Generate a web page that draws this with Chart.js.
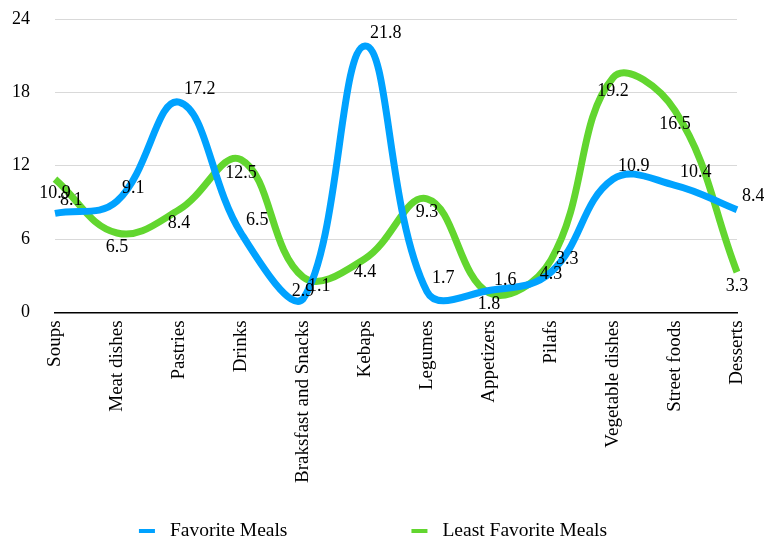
<!DOCTYPE html>
<html>
<head>
<meta charset="utf-8">
<script src="https://cdn.jsdelivr.net/npm/chart.js@4.4.1/dist/chart.umd.min.js"></script>
<style>
  body { margin: 0; background: #fff; }
  #wrap { width: 764px; height: 543px; }
</style>
</head>
<body>
<div id="wrap"><canvas id="mealsChart"></canvas></div>
<script>
// Categories and values
const categories = ['Soups', 'Meat dishes', 'Pastries', 'Drinks', 'Braksfast and Snacks', 'Kebaps',
    'Legumes', 'Appetizers', 'Pilafs', 'Vegetable dishes', 'Street foods', 'Desserts'];
const favoriteMeals = [8.1, 9.1, 17.2, 6.5, 1.1, 21.8, 1.7, 1.8, 3.3, 10.9, 10.4, 8.4];
const leastFavoriteMeals = [10.9, 6.5, 8.4, 12.5, 2.9, 4.4, 9.3, 1.6, 4.3, 19.2, 16.5, 3.3];
const yTicks = [0, 6, 12, 18, 24];

// where each value label sits relative to its point
const favoriteLabelPos = ['above', 'above', 'above', 'above', 'above', 'above',
    'above', 'below', 'above', 'above', 'above', 'above'];
const leastLabelPos = ['below', 'below', 'below', 'below', 'below', 'below',
    'below', 'above', 'below', 'below', 'below', 'below'];

const FONT = '"Liberation Serif", "Times New Roman", serif';

// Draws the number next to every point
const valueLabels = {
    id: 'valueLabels',
    afterDatasetsDraw(chart) {
        const ctx = chart.ctx;
        ctx.save();
        ctx.font = '18px ' + FONT;
        ctx.fillStyle = '#000';
        ctx.textBaseline = 'middle';
        chart.data.datasets.forEach((ds, di) => {
            const meta = chart.getDatasetMeta(di);
            meta.data.forEach((pt, i) => {
                const text = ds.data[i].toFixed(1);
                if (ds.labelPos[i] === 'above') {
                    ctx.textAlign = 'left';
                    ctx.fillText(text, pt.x + 5, pt.y - 13);
                } else {
                    ctx.textAlign = 'center';
                    ctx.fillText(text, pt.x, pt.y + 14);
                }
            });
        });
        ctx.restore();
    }
};

// Simple legend at the bottom with short line markers
const bottomLegend = {
    id: 'bottomLegend',
    afterDraw(chart) {
        const ctx = chart.ctx;
        const markerLen = 16, markerGap = 15, itemGap = 124;
        ctx.save();
        ctx.font = '19.5px ' + FONT;
        ctx.textBaseline = 'middle';
        ctx.textAlign = 'left';
        const items = chart.data.datasets.map(ds => ({
            text: ds.label,
            color: ds.borderColor,
            width: markerLen + markerGap + ctx.measureText(ds.label).width
        }));
        const total = items.reduce((s, it) => s + it.width, 0) + itemGap * (items.length - 1);
        let x = chart.width / 2 - total / 2 - 9;
        const y = chart.height - 12;
        items.forEach(it => {
            ctx.fillStyle = it.color;
            ctx.fillRect(x, y - 2, markerLen, 4);
            ctx.fillStyle = '#000';
            ctx.fillText(it.text, x + markerLen + markerGap, y);
            x += it.width + itemGap;
        });
        ctx.restore();
    }
};

const ctx = document.getElementById('mealsChart').getContext('2d');
new Chart(ctx, {
    type: 'line',
    data: {
        labels: categories,
        datasets: [{
            label: 'Favorite Meals',
            data: favoriteMeals,
            labelPos: favoriteLabelPos,
            borderColor: '#00A2FF',
            backgroundColor: '#00A2FF',
            borderWidth: 7,
            tension: 0.4,
            pointRadius: 0,
            fill: false
        }, {
            label: 'Least Favorite Meals',
            data: leastFavoriteMeals,
            labelPos: leastLabelPos,
            borderColor: '#62D62F',
            backgroundColor: '#62D62F',
            borderWidth: 7,
            tension: 0.4,
            pointRadius: 0,
            fill: false
        }]
    },
    options: {
        responsive: true,
        maintainAspectRatio: false,
        animation: false,
        layout: {
            padding: { left: 12, right: 27, top: 19, bottom: 60 }
        },
        plugins: {
            legend: { display: false },
            tooltip: { enabled: false }
        },
        scales: {
            x: {
                offset: false,
                grid: { display: false },
                border: { color: '#000', width: 1.5 },
                ticks: {
                    color: '#000',
                    font: { family: FONT, size: 19 },
                    maxRotation: 90,
                    minRotation: 90,
                    padding: 0,
                    autoSkip: false
                }
            },
            y: {
                min: yTicks[0],
                max: yTicks[yTicks.length - 1],
                afterBuildTicks: scale => {
                    scale.ticks = yTicks.map(v => ({ value: v }));
                },
                afterFit: scale => {
                    // fixed axis width, and no extra room above/below the plot
                    scale.width = 43;
                    scale.paddingTop = 10;
                    scale.paddingBottom = 10;
                },
                grid: { color: '#D9D9D9', lineWidth: 1, drawTicks: false },
                border: { display: false },
                ticks: {
                    color: '#000',
                    font: { family: FONT, size: 18 },
                    padding: 25
                }
            }
        }
    },
    plugins: [valueLabels, bottomLegend]
});
</script>
</body>
</html>
